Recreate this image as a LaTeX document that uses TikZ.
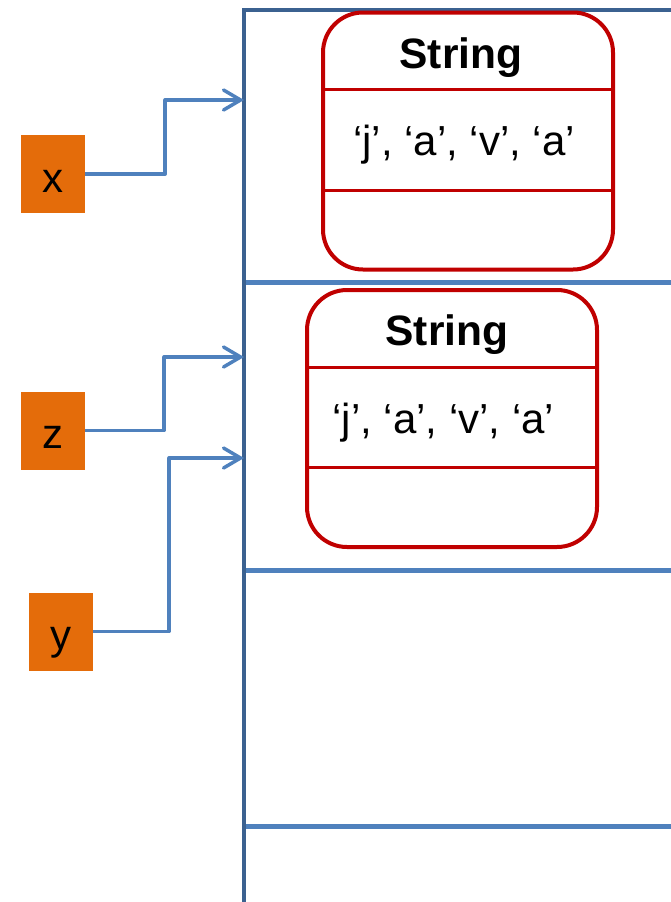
\documentclass[tikz,border=0pt]{standalone}
\usepackage{fontspec}
\setmainfont{Liberation Sans}
\usetikzlibrary{arrows.meta}
\definecolor{varorange}{HTML}{E46C0A}
\definecolor{framedark}{HTML}{3B6190}
\definecolor{lineblue}{HTML}{4F81BD}
\definecolor{objred}{HTML}{C00000}
\tikzset{
  varbox/.style={fill=varorange, draw=none, minimum width=64pt, minimum height=78pt,
    inner sep=0pt, text height=36pt, text depth=0pt, font=\fontsize{42}{50}\selectfont},
  ref/.style={draw=lineblue, line width=3.5pt, line join=round,
    -{Straight Barb[length=17pt,width=20pt,line cap=round]}},
  frame/.style={draw=framedark, line width=4pt},
  divider/.style={draw=lineblue, line width=5pt},
  objbox/.style={draw=objred, line width=4pt, rounded corners=40pt, minimum width=290pt,
    minimum height=257pt, inner sep=0pt},
  objline/.style={draw=objred, line width=3pt},
  titletext/.style={font=\fontsize{42.5}{50}\selectfont\bfseries, anchor=base, inner sep=0pt},
  valtext/.style={font=\fontsize{42}{50}\selectfont, anchor=base, inner sep=0pt}
}
\begin{document}
\begin{tikzpicture}[x=1pt,y=-1pt]
\useasboundingbox (0,0) rectangle (671,902);
% memory frame
\coordinate (ftop) at (244,10);
\coordinate (fbot) at (244,904);
\coordinate (fright) at (673,10);
\draw[frame, line join=miter] (fbot) -- (ftop) -- (fright);
\coordinate (d1l) at (246,282); \coordinate (d1r) at (673,282);
\coordinate (d2l) at (246,570); \coordinate (d2r) at (673,570);
\coordinate (d3l) at (246,826); \coordinate (d3r) at (673,826);
\draw[divider] (d1l) -- (d1r);
\draw[divider] (d2l) -- (d2r);
\draw[divider] (d3l) -- (d3r);
% objects
\node[objbox] (s1) at (468,141) {};
\coordinate (s1a) at (323,89); \coordinate (s1b) at (613,89);
\coordinate (s1c) at (323,190); \coordinate (s1d) at (613,190);
\draw[objline] (s1a) -- (s1b);
\draw[objline] (s1c) -- (s1d);
\node[titletext] (t1) at (461,68) {String};
\node[valtext] (v1) at (464,155) {‘j’, ‘a’, ‘v’, ‘a’};
\node[objbox] (s2) at (452,418.5) {};
\coordinate (s2a) at (307,367); \coordinate (s2b) at (597,367);
\coordinate (s2c) at (307,467); \coordinate (s2d) at (597,467);
\draw[objline] (s2a) -- (s2b);
\draw[objline] (s2c) -- (s2d);
\node[titletext] (t2) at (447,345) {String};
\node[valtext] (v2) at (443.5,433) {‘j’, ‘a’, ‘v’, ‘a’};
% variables
\node[varbox] (x) at (53,174) {x};
\node[varbox] (z) at (53,430.5) {z};
\node[varbox] (y) at (61,631.5) {y};
\coordinate (ax) at (244,100);
\coordinate (az) at (244,357);
\coordinate (ay) at (244,458);
\draw[ref] (x.east) -- ++(80,0) |- (ax);
\draw[ref] (z.east) -- ++(79,0) |- (az);
\draw[ref] (y.east) -- ++(76,0) |- (ay);
\end{tikzpicture}
\end{document}
